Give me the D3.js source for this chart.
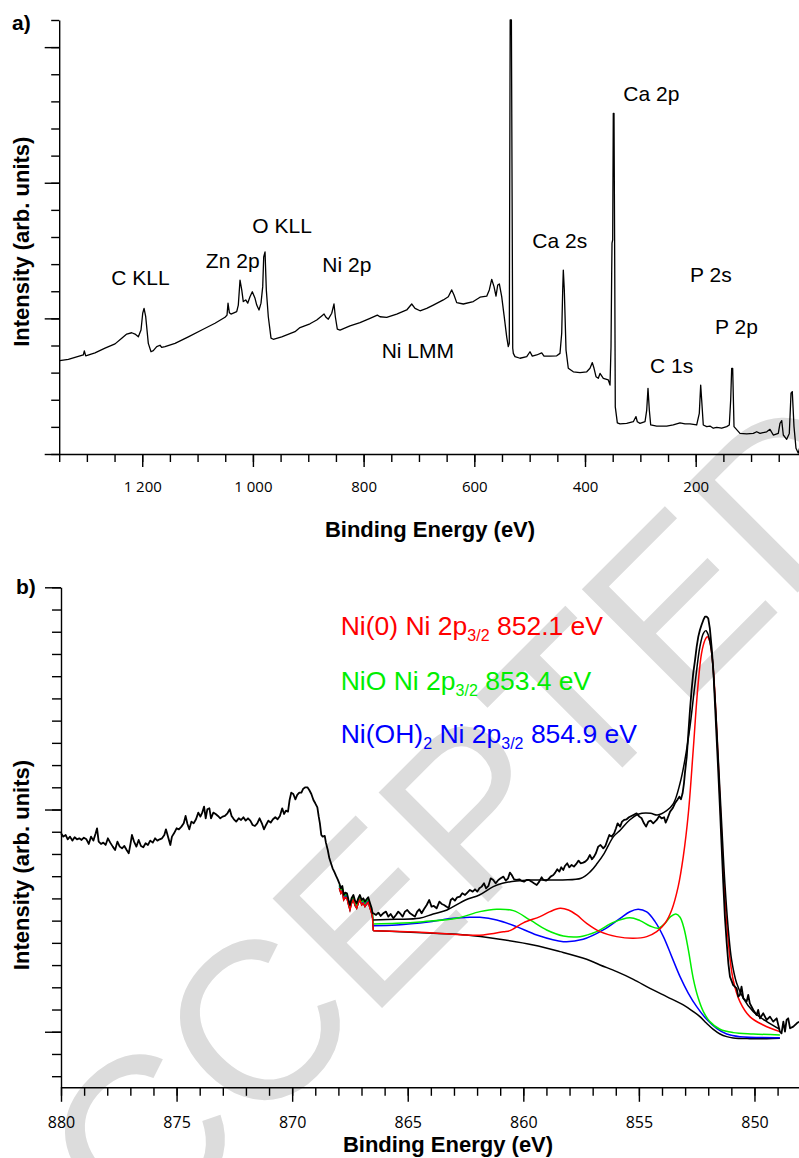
<!DOCTYPE html>
<html><head><meta charset="utf-8">
<script src="https://cdn.jsdelivr.net/npm/d3@7"></script>
<style>body{margin:0;background:#fff}svg{display:block}</style>
</head><body>
<svg id="chart" width="799" height="1158"></svg>
<script>
// ---------------- DATA ----------------
// Panel a: survey spectrum [binding energy eV, intensity arb.]
const surveySpectrum = [
[1349,3.44],[1333.5,3.49],[1306.4,3.65],[1304.6,3.80],[1302.1,3.62],[1285.3,3.73],[1267.2,3.90],[1249.1,4.06],
[1237.0,4.27],[1228.0,4.42],[1219.0,4.47],[1213.0,4.42],[1207.0,4.32],[1202.2,4.57],[1199.1,5.19],[1196.7,5.37],
[1193.7,5.06],[1189.0,4.08],[1184.1,3.77],[1180.0,3.81],[1173.8,3.96],[1167.9,4.01],[1164.8,3.93],[1158.8,3.96],
[1140.7,4.08],[1116.7,4.32],[1092.5,4.57],[1068.5,4.82],[1050.4,5.04],[1046.8,5.12],[1045.0,5.56],[1042.6,5.21],
[1039.6,5.16],[1029.3,5.25],[1026.4,5.49],[1023.3,6.41],[1020.2,6.05],[1017.4,5.62],[1013.0,5.68],[1009.4,5.56],
[1005.3,5.80],[1001.1,5.98],[996.2,5.74],[993.1,5.49],[989.0,5.31],[985.4,5.56],[982.3,6.17],[980.5,7.27],
[978.1,7.45],[975.8,6.05],[972.2,5.06],[967.3,4.27],[963.2,4.23],[948.0,4.32],[924.0,4.51],[914.9,4.66],
[896.9,4.80],[884.7,4.94],[875.7,5.09],[871.5,5.16],[867.9,5.04],[863.8,4.97],[857.6,5.19],[853.5,5.53],
[851.1,5.06],[847.5,4.60],[842.6,4.57],[824.6,4.72],[806.5,4.84],[788.4,5.00],[775.2,5.12],[770.4,5.06],
[758.3,5.04],[740.2,5.16],[722.1,5.31],[713.1,5.53],[707.1,5.37],[698.1,5.28],[686.0,5.37],[674.1,5.49],
[656.0,5.68],[647.0,5.80],[640.8,6.05],[636.7,5.86],[631.8,5.58],[619.9,5.53],[601.8,5.62],[589.7,5.78],
[577.6,5.82],[572.9,6.05],[568.6,6.44],[564.4,6.17],[560.8,5.82],[557.7,6.23],[554.8,6.27],[550.5,5.80],
[546.3,5.12],[541.5,4.32],[538.6,3.96],[536.8,4.08],[535.2,16.0],[533.0,16.0],[530.6,3.90],[529.5,3.71],
[526.5,3.59],[517.4,3.53],[505.3,3.59],[499.4,3.77],[495.2,3.61],[487.3,3.65],[478.2,3.73],[474.1,3.61],
[463.2,3.61],[451.1,3.62],[445.2,3.71],[442.1,4.45],[440.3,6.05],[439.2,6.78],[437.4,6.05],[434.3,3.83],
[430.2,3.16],[421.1,3.03],[409.0,3.00],[396.9,3.03],[391.0,3.16],[386.8,3.37],[383.7,3.16],[380.1,2.85],
[376.0,2.79],[372.9,2.97],[366.9,2.79],[357.9,2.73],[354.8,2.54],[353.0,3.96],[351.8,6.66],[351.2,7.77],
[350.0,7.89],[348.9,12.56],[347.6,12.56],[346.3,6.91],[345.3,1.74],[341.6,1.15],[336.8,1.11],[324.7,1.13],
[312.7,1.19],[307.9,1.38],[305.5,1.19],[300.6,1.13],[291.6,1.19],[288.5,1.62],[286.2,2.42],[283.8,1.62],
[281.3,1.07],[270.5,1.03],[252.4,1.03],[240.5,1.07],[228.4,1.15],[219.3,1.11],[210.3,1.11],[198.2,1.07],
[193.5,1.50],[191.0,2.54],[189.2,1.99],[186.3,1.07],[180.1,1.01],[174.2,1.03],[168.2,0.95],[162.1,0.98],
[153.0,0.95],[144.0,1.01],[139.3,1.07],[136.8,1.99],[135.0,3.16],[133.2,3.16],[130.8,1.01],[120.0,0.76],
[107.9,0.74],[95.9,0.76],[89.8,0.82],[83.8,0.76],[71.7,0.82],[65.8,0.91],[59.8,0.70],[50.8,0.76],
[47.7,1.13],[44.6,1.23],[41.7,0.70],[35.6,0.54],[30.9,0.76],[27.8,2.24],[25.5,2.30],[22.4,1.01],
[18.8,0.21],[14.6,0.03],[10.0,0.40]
];
const surveyPeakLabels = [
  {name:"C KLL", E:1256, v:6.23}, {name:"Zn 2p", E:1085, v:6.85}, {name:"O KLL", E:1001, v:8.14},
  {name:"Ni 2p", E:874.6, v:6.72}, {name:"Ni LMM", E:767.3, v:3.53}, {name:"Ca 2s", E:495.2, v:7.61},
  {name:"Ca 2p", E:330.8, v:13.03}, {name:"P 2s", E:210.3, v:6.35}, {name:"P 2p", E:165.1, v:4.41},
  {name:"C 1s", E:282.6, v:3.00}
];
const surveyTickValues = [1200, 1000, 800, 600, 400, 200];
const surveyTickLabels = ["1 200", "1 000", "800", "600", "400", "200"];

// Panel b: Ni 2p3/2 region [binding energy eV, counts]
const niRaw = [
[880.00,18930],[879.90,18780],[879.80,18855],[879.71,18660],[879.61,18780],[879.51,18600],[879.41,18750],[879.31,18660],
[879.21,18705],[879.11,18630],[879.01,18735],[878.90,18660],[878.80,18450],[878.70,18780],[878.60,18600],[878.50,18930],
[878.44,19155],[878.37,18555],[878.27,18450],[878.17,18510],[878.07,18405],[877.97,18705],[877.87,18510],[877.76,18330],
[877.66,18180],[877.56,18555],[877.46,18330],[877.36,18255],[877.26,18360],[877.16,18180],[877.07,18030],[876.99,18480],
[876.93,18855],[876.84,18555],[876.74,18330],[876.64,18630],[876.54,18360],[876.44,18300],[876.34,18480],[876.24,18405],
[876.14,18600],[876.03,18510],[875.93,18705],[875.83,18600],[875.73,18660],[875.63,18705],[875.53,18855],[875.46,19110],
[875.37,18780],[875.27,18405],[875.20,18780],[875.11,18930],[875.00,19155],[874.90,19110],[874.79,19230],[874.69,19380],
[874.61,19710],[874.53,19350],[874.45,19110],[874.36,19455],[874.26,19380],[874.16,19560],[874.06,19860],[873.97,19680],
[873.89,19860],[873.81,20130],[873.74,19605],[873.67,20010],[873.58,20055],[873.51,19605],[873.41,19860],[873.31,19800],
[873.21,19710],[873.11,19605],[873.01,19680],[872.91,19710],[872.80,19830],[872.70,20010],[872.62,19710],[872.52,19560],
[872.42,19455],[872.31,19605],[872.21,19530],[872.11,19650],[872.01,19500],[871.91,19605],[871.81,19500],[871.71,19305],
[871.61,19260],[871.51,19380],[871.41,19605],[871.30,19350],[871.22,19110],[871.13,19305],[871.03,19500],[870.93,19410],
[870.83,19560],[870.73,19650],[870.63,19560],[870.53,19710],[870.43,20055],[870.35,19800],[870.27,19950],[870.18,19905],
[870.11,20430],[870.04,20760],[869.95,20700],[869.86,20460],[869.78,20655],[869.69,20760],[869.60,20760],[869.52,20940],
[869.43,21000],[869.34,21000],[869.26,20880],[869.17,20700],[869.08,20430],[869.00,20280],[868.91,20100],[868.85,19680],
[868.80,19380],[868.74,18855],[868.68,18780],[868.59,18810],[868.54,18510],[868.46,18180],[868.39,17805],[868.32,17580],
[868.25,17355],[868.18,17205],[868.10,17010],[868.03,16860],[867.96,16680],[867.89,16455],[867.83,16560],[867.77,16155],
[867.70,16260],[867.63,16230],[867.56,15930],[867.50,15705],[867.43,16005],[867.35,16155],[867.28,15900],[867.21,15780],
[867.14,16005],[867.07,16155],[866.99,15930],[866.92,16005],[866.85,15855],[866.78,15960],[866.71,16050],[866.63,15780],
[866.56,15555],[866.52,15330],[866.49,15330],[866.37,15255],[866.27,15360],[866.17,15210],[866.06,15330],[865.94,15405],
[865.84,15180],[865.74,15300],[865.62,15105],[865.51,15255],[865.41,15405],[865.31,15300],[865.22,15180],[865.12,15405],
[865.02,15480],[864.90,15330],[864.79,15255],[864.69,15180],[864.59,15405],[864.50,15510],[864.40,15330],[864.30,15510],
[864.18,15705],[864.07,15930],[863.97,15630],[863.87,15660],[863.75,15555],[863.63,15855],[863.53,15750],[863.43,15705],
[863.32,15630],[863.23,15555],[863.14,15930],[863.06,16005],[862.96,15900],[862.86,16050],[862.74,16080],[862.64,16230],
[862.52,16155],[862.42,16260],[862.31,16380],[862.19,16305],[862.09,16410],[861.99,16305],[861.90,16455],[861.80,16530],
[861.70,16680],[861.61,16455],[861.51,16560],[861.41,16905],[861.30,16830],[861.20,16680],[861.08,16830],[860.98,16905],
[860.86,16980],[860.76,16800],[860.66,16905],[860.58,17160],[860.50,17055],[860.40,16860],[860.29,16830],[860.17,16860],
[860.07,16785],[859.97,16755],[859.86,16830],[859.75,16830],[859.64,16755],[859.54,16680],[859.42,16605],[859.31,16755],
[859.21,16950],[859.13,16830],[859.02,16800],[858.92,16860],[858.82,16980],[858.70,17055],[858.62,17160],[858.53,17310],
[858.44,17205],[858.36,17400],[858.27,17280],[858.20,17460],[858.10,17580],[858.01,17400],[857.91,17505],[857.81,17430],
[857.69,17580],[857.61,17700],[857.52,17580],[857.41,17610],[857.32,17655],[857.22,17760],[857.12,17955],[857.03,17760],
[856.94,17880],[856.86,18030],[856.76,18330],[856.66,18405],[856.54,18255],[856.45,18360],[856.36,18630],[856.28,18855],
[856.18,18780],[856.07,18930],[855.99,19155],[855.92,19380],[855.81,19230],[855.73,19455],[855.64,19530],[855.53,19560],
[855.43,19650],[855.24,19755],[855.10,19830],[854.98,19680],[854.88,19605],[854.78,19380],[854.69,19230],[854.59,19455],
[854.49,19500],[854.38,19380],[854.23,19530],[854.12,19710],[854.02,19605],[853.91,19650],[853.84,19410],[853.76,19605],
[853.65,19905],[853.54,20055],[853.44,20280],[853.34,20430],[853.25,20580],[853.18,20460],[853.11,20730],[853.05,21180],
[853.01,21630],[852.93,22380],[852.86,23430],[852.79,24480],[852.72,25380],[852.65,26130],[852.57,26730],[852.50,27330],
[852.43,27780],[852.36,28080],[852.29,28305],[852.21,28530],[852.14,28680],[852.07,28680],[852.00,28605],[851.93,28155],
[851.85,27255],[851.78,26280],[851.71,24780],[851.64,23280],[851.57,21780],[851.49,19980],[851.42,18330],[851.35,16680],
[851.28,15180],[851.20,13980],[851.13,13080],[851.06,12480],[850.92,12100],[850.77,11955],[850.70,11580],[850.63,11655],
[850.56,12030],[850.48,11505],[850.34,11355],[850.27,11655],[850.20,11280],[850.05,10980],[849.91,10755],[849.84,10980],
[849.76,10605],[849.62,10830],[849.47,10530],[849.33,10680],[849.19,10455],[849.04,10605],[848.90,10005],[848.83,9930],
[848.75,10455],[848.68,10005],[848.61,10530],[848.54,10605],[848.46,10155],[848.32,10230],[848.17,10380],[848.07,10455]
];
const niEnvelope = [
[866.49,15030],[865.48,15060],[864.50,15105],[863.90,15300],[863.30,15480],[862.50,15930],[861.90,16155],[861.30,16530],
[860.90,16680],[860.30,16785],[859.70,16830],[858.30,16830],[857.50,16905],[857.10,17205],[856.80,17580],[856.50,18030],
[856.10,18780],[855.80,19080],[855.40,19530],[855.00,19800],[854.50,19830],[854.20,19755],[853.80,19950],[853.50,20280],
[853.22,21180],[853.01,22230],[852.79,23730],[852.57,25680],[852.36,27330],[852.21,27930],[852.10,28050],[852.00,27855],
[851.85,27030],[851.71,25080],[851.57,22380],[851.42,19380],[851.28,16680],[851.13,14580],[850.99,13230],[850.77,12180],
[850.48,11505],[850.05,10905],[849.47,10455],[848.90,10110]
];
const niBackground = [
[866.49,14550],[865.34,14505],[863.89,14430],[862.45,14355],[861.01,14160],[859.57,13905],[858.41,13605],[857.26,13260],
[856.68,13005],[855.96,12705],[855.24,12360],[854.52,11955],[853.80,11580],[853.08,11205],[852.65,10905],[852.36,10680],
[852.07,10380],[851.78,10110],[851.49,9900],[851.20,9780],[850.92,9720],[850.20,9690],[849.47,9690],[848.90,9705]
];
const niMetal = [ // Ni(0) 852.1 eV (red)
[866.49,14550],[864.04,14460],[862.60,14355],[861.73,14355],[860.86,14500],[860.58,14550],[860.00,14900],[859.28,15180],
[858.85,15405],[858.41,15555],[858.05,15480],[857.69,15255],[857.26,14880],[856.68,14505],[855.96,14280],[855.24,14205],
[854.66,14280],[854.23,14505],[853.87,14880],[853.58,15480],[853.30,16530],[853.08,17880],[852.86,19830],[852.65,22680],
[852.46,25380],[852.29,27030],[852.14,27630],[852.04,27780],[851.93,27555],[851.78,26280],[851.64,23730],[851.49,20430],
[851.35,17280],[851.20,14880],[851.06,13305],[850.92,12330],[850.63,11355],[850.20,10680],[849.62,10305],[848.90,10005]
];
const niOxide = [ // NiO 853.4 eV (green)
[866.49,14850],[865.48,14880],[864.33,14955],[862.88,15105],[861.88,15405],[861.15,15510],[860.43,15450],[859.71,15030],
[858.99,14580],[858.27,14310],[857.55,14280],[856.83,14505],[856.11,14920],[855.39,15130],[854.95,15000],[854.52,14760],
[854.16,14655],[853.87,14880],[853.63,15180],[853.40,15300],[853.22,15150],[853.05,14655],[852.86,13680],[852.65,12405],
[852.43,11505],[852.21,10905],[851.93,10455],[851.49,10110],[850.92,9960],[850.05,9900],[848.90,9855]
];
const niHydroxide = [ // Ni(OH)2 854.9 eV (blue)
[866.49,14775],[865.48,14805],[864.04,14955],[863.03,15105],[862.31,15150],[861.88,15150],[861.15,15030],[860.29,14730],
[859.42,14355],[858.27,14055],[857.41,14160],[856.54,14580],[855.81,15105],[855.39,15400],[855.03,15510],[854.66,15390],
[854.30,14955],[853.94,14280],[853.58,13380],[853.22,12480],[852.86,11730],[852.50,11130],[852.07,10560],[851.64,10155],
[851.20,9900],[850.63,9780],[848.90,9735]
];
// the component traces follow the raw data (slightly shifted) before the fit window
const fitWindowStart = 866.5, fitOverlayStart = 868.0;
const overlayShift = {background:-220, metal:-220, oxide:-70, hydroxide:-130};
const niTickValues = [880, 875, 870, 865, 860, 855, 850];
const legendEntries = [
  {main:"Ni(0) Ni 2p", sub:"3/2", rest:" 852.1 eV", color:"#ff0000", E:867.9, I:27854},
  {main:"NiO Ni 2p", sub:"3/2", rest:" 853.4 eV", color:"#00ee00", E:867.9, I:25378},
  {main:"Ni(OH)", sub2:"2", main2:" Ni 2p", sub:"3/2", rest:" 854.9 eV", color:"#0000ff", E:867.9, I:22993}
];

// ---------------- DRAWING ----------------
const svg = d3.select("#chart");
const FONT = "'Liberation Sans', Arial, Helvetica, sans-serif";
const TICKFONT = "'Open Sans', 'DejaVu Sans', sans-serif";

// watermark
svg.append("text")
  .attr("transform", "translate(33,1357) rotate(-45)")
  .attr("font-family", FONT)
  .attr("font-size", 225).attr("fill", "#dcdcdc")
  .text("ACCEPTED");

function styleAxis(g, fontSize) {
  g.selectAll("path, line").attr("stroke", "#000").attr("stroke-width", 1.4);
  g.attr("font-family", TICKFONT).attr("font-size", fontSize);
  g.selectAll("text").attr("fill", "#000");
}

// ----- Panel a -----
const xA = d3.scaleLinear().domain([1350, 0]).range([59.2, 806.4]);
const yA = d3.scaleLinear().domain([0, 16]).range([454, 20]);
const gA = svg.append("g");

gA.append("g").attr("transform", "translate(0,454)")
  .call(d3.axisBottom(xA).tickValues(d3.range(1350, -1, -50)).tickSize(8).tickSizeOuter(0).tickFormat(""))
  .call(g => styleAxis(g, 15));
gA.append("g").attr("transform", "translate(0,454)")
  .call(d3.axisBottom(xA).tickValues(surveyTickValues).tickSize(13).tickSizeOuter(0).tickPadding(14)
        .tickFormat((d, i) => surveyTickLabels[i]))
  .call(g => styleAxis(g, 15)).call(g => g.select(".domain").remove());
gA.append("g").attr("transform", "translate(59.2,0)")
  .call(d3.axisLeft(yA).tickValues(d3.range(0, 17)).tickSize(8).tickSizeOuter(0).tickFormat(""))
  .call(g => styleAxis(g, 15));
gA.append("g").attr("transform", "translate(59.2,0)")
  .call(d3.axisLeft(yA).tickValues([0, 5, 10, 15]).tickSize(14.5).tickSizeOuter(0).tickFormat(""))
  .call(g => styleAxis(g, 15)).call(g => g.select(".domain").remove());

gA.append("path").datum(surveySpectrum)
  .attr("fill", "none").attr("stroke", "#000").attr("stroke-width", 1.3).attr("stroke-linejoin", "round")
  .attr("d", d3.line().x(d => xA(d[0])).y(d => yA(d[1])));

gA.selectAll("text.peak").data(surveyPeakLabels).join("text").attr("class", "peak")
  .attr("x", d => xA(d.E)).attr("y", d => yA(d.v))
  .attr("font-family", FONT).attr("font-size", 21).attr("fill", "#000").text(d => d.name);

svg.append("text").attr("x", 12).attr("y", 30).attr("font-family", FONT).attr("font-weight", "bold")
  .attr("font-size", 21).text("a)");
svg.append("text").attr("transform", "translate(29,241.7) rotate(-90)").attr("text-anchor", "middle")
  .attr("font-family", FONT).attr("font-weight", "bold").attr("font-size", 22).text("Intensity (arb. units)");
svg.append("text").attr("x", 430).attr("y", 537).attr("text-anchor", "middle")
  .attr("font-family", FONT).attr("font-weight", "bold").attr("font-size", 22).text("Binding Energy (eV)");

// ----- Panel b -----
const xB = d3.scaleLinear().domain([880, 848]).range([61, 800.7]);
const yB = d3.scaleLinear().domain([7500, 30000]).range([1087.3, 587.3]);
const gB = svg.append("g");

gB.append("g").attr("transform", "translate(0,1087.3)")
  .call(d3.axisBottom(xB).tickValues(d3.range(880, 847, -1)).tickSize(8.5).tickSizeOuter(0).tickFormat(""))
  .call(g => styleAxis(g, 16));
gB.append("g").attr("transform", "translate(0,1087.3)")
  .call(d3.axisBottom(xB).tickValues(niTickValues).tickSize(14.5).tickSizeOuter(0).tickPadding(15)
        .tickFormat(d3.format("d")))
  .call(g => styleAxis(g, 16)).call(g => g.select(".domain").remove());
gB.append("g").attr("transform", "translate(61,0)")
  .call(d3.axisLeft(yB).tickValues(d3.range(8000, 30001, 1000)).tickSize(9).tickSizeOuter(0).tickFormat(""))
  .call(g => styleAxis(g, 16));
gB.append("g").attr("transform", "translate(61,0)")
  .call(d3.axisLeft(yB).tickValues([10000, 20000, 30000]).tickSize(16).tickSizeOuter(0).tickFormat(""))
  .call(g => styleAxis(g, 16)).call(g => g.select(".domain").remove());

const lineB = d3.line().x(d => xB(d[0])).y(d => yB(d[1]));
const smoothB = d3.line().x(d => xB(d[0])).y(d => yB(d[1])).curve(d3.curveCatmullRom.alpha(0.5));
const overlay = shift => niRaw.filter(d => d[0] <= fitOverlayStart && d[0] > fitWindowStart).map(d => [d[0], d[1] + shift]);

function drawComponent(data, shift, color, w) {
  const pre = overlay(shift);
  gB.append("path").datum(pre.concat([data[0]]))
    .attr("fill", "none").attr("stroke", color).attr("stroke-width", w).attr("d", lineB);
  gB.append("path").datum(data)
    .attr("fill", "none").attr("stroke", color).attr("stroke-width", w).attr("d", smoothB);
}
drawComponent(niBackground, overlayShift.background, "#000", 1.5);
drawComponent(niHydroxide, overlayShift.hydroxide, "#0000ff", 1.5);
drawComponent(niOxide, overlayShift.oxide, "#00ee00", 1.5);
drawComponent(niMetal, overlayShift.metal, "#ff0000", 1.5);
gB.append("path").datum(niEnvelope)
  .attr("fill", "none").attr("stroke", "#000").attr("stroke-width", 1.5).attr("d", smoothB);
gB.append("path").datum(niRaw)
  .attr("fill", "none").attr("stroke", "#000").attr("stroke-width", 1.8).attr("stroke-linejoin", "round").attr("d", lineB);

// legend
legendEntries.forEach(e => {
  const t = gB.append("text").attr("x", xB(e.E)).attr("y", yB(e.I))
    .attr("font-family", FONT).attr("font-size", 26.5).attr("fill", e.color);
  if (e.sub2) {
    t.append("tspan").text(e.main);
    t.append("tspan").attr("font-size", 16).attr("dy", 6).text(e.sub2);
    t.append("tspan").attr("dy", -6).text(e.main2);
  } else {
    t.append("tspan").text(e.main);
  }
  t.append("tspan").attr("font-size", 16).attr("dy", 6).text(e.sub);
  t.append("tspan").attr("dy", -6).text(e.rest);
});

svg.append("text").attr("x", 16).attr("y", 594).attr("font-family", FONT).attr("font-weight", "bold")
  .attr("font-size", 21).text("b)");
svg.append("text").attr("transform", "translate(29,865) rotate(-90)").attr("text-anchor", "middle")
  .attr("font-family", FONT).attr("font-weight", "bold").attr("font-size", 22).text("Intensity (arb. units)");
svg.append("text").attr("x", 448).attr("y", 1152).attr("text-anchor", "middle")
  .attr("font-family", FONT).attr("font-weight", "bold").attr("font-size", 22).text("Binding Energy (eV)");
</script>
</body></html>
